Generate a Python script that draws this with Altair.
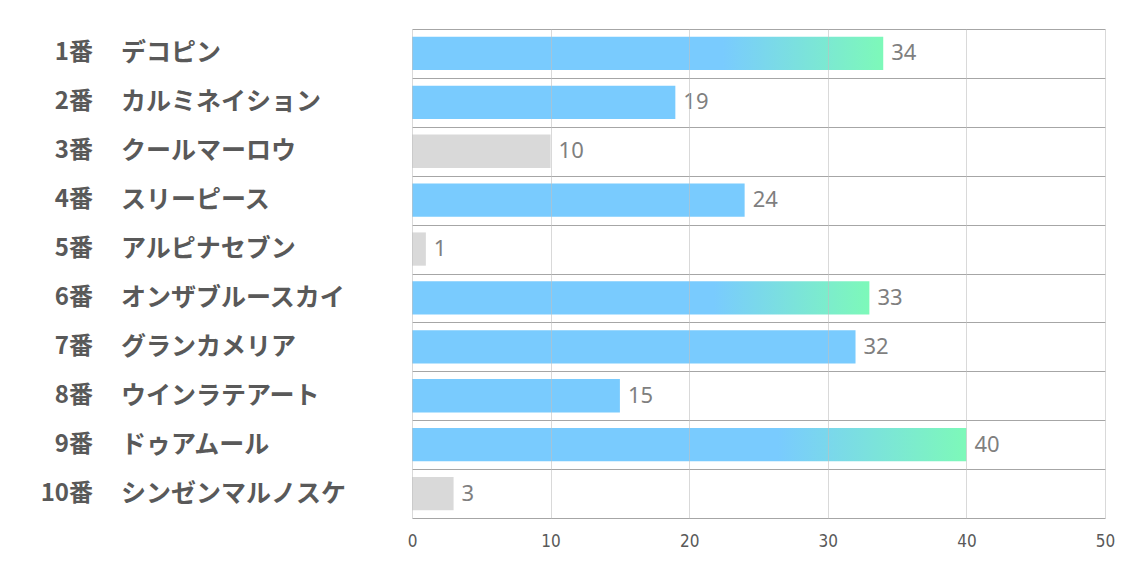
import altair as alt
import pandas as pd

nums = ["1番", "2番", "3番", "4番", "5番", "6番", "7番", "8番", "9番", "10番"]
names = ["デコピン", "カルミネイション", "クールマーロウ", "スリーピース", "アルピナセブン",
         "オンザブルースカイ", "グランカメリア", "ウインラテアート", "ドゥアムール", "シンゼンマルノスケ"]
values = [34, 19, 10, 24, 1, 33, 32, 15, 40, 3]
kinds = ["grad", "blue", "gray", "blue", "gray", "grad", "blue", "blue", "grad", "gray"]
x_ticks = [0, 10, 20, 30, 40, 50]

labels = [f"{n}　{m}" for n, m in zip(nums, names)]
df = pd.DataFrame({"label": labels, "num": nums, "name": names, "value": values, "kind": kinds})

BLUE = "#79CBFE"
GREEN = "#7DF9B9"
GRAY = "#D9D9D9"

y_enc = alt.Y(
    "label:N",
    sort=labels,
    scale=alt.Scale(paddingInner=0, paddingOuter=0),
    axis=alt.Axis(labels=False, ticks=False, domain=False, grid=True, tickBand="extent",
                  gridColor="#A6A6A6", gridWidth=1, title=None),
)
x_enc = alt.X(
    "value:Q",
    scale=alt.Scale(domain=[0, 50], nice=False),
    axis=alt.Axis(values=x_ticks, grid=True, gridColor="#BFBFBF", gridOpacity=0.6, domain=False,
                  ticks=False, labelFontSize=17, labelColor="#595959", labelPadding=15,
                  labelFlush=False,
                  labelFont="Liberation Sans Narrow, DejaVu Sans Condensed, sans-serif",
                  title=None, zindex=1),
)

base = alt.Chart(df)
BAR_H = {"band": 0.68}

blue_bars = base.transform_filter(alt.datum.kind == "blue").mark_bar(
    color=BLUE, height=BAR_H).encode(x=x_enc, y=y_enc)
gray_bars = base.transform_filter(alt.datum.kind == "gray").mark_bar(
    color=GRAY, height=BAR_H).encode(x=x_enc, y=y_enc)
grad_bars = base.transform_filter(alt.datum.kind == "grad").mark_bar(
    height=BAR_H,
    color=alt.LinearGradient(
        gradient="linear",
        stops=[alt.GradientStop(offset=0, color=BLUE),
               alt.GradientStop(offset=0.66, color=BLUE),
               alt.GradientStop(offset=1, color=GREEN)],
        x1=0, x2=1, y1=0, y2=0,
    )
).encode(x=x_enc, y=y_enc)

value_text = base.mark_text(align="left", baseline="middle", dx=8, fontSize=22,
                            font="Noto Sans", color="#7F7F7F").encode(
    x=alt.X("value:Q"), y=alt.Y("label:N", sort=labels), text="value:Q")

num_text = base.mark_text(align="right", baseline="middle", fontSize=24, fontWeight="bold",
                          font="Noto Sans CJK JP", color="#595959").encode(
    x=alt.value(-319), y=alt.Y("label:N", sort=labels), text="num:N")

name_text = base.mark_text(align="left", baseline="middle", fontSize=25, fontWeight="bold",
                           font="Noto Sans CJK JP", color="#595959").encode(
    x=alt.value(-291), y=alt.Y("label:N", sort=labels), text="name:N")

chart = alt.layer(blue_bars, gray_bars, grad_bars, value_text, num_text, name_text).properties(
    width=693,
    height=489,
    autosize=alt.AutoSizeParams(type="none"),
    padding={"left": 404, "top": 21, "right": 20, "bottom": 40},
).configure_view(stroke=None)

chart.save("out.html", embed_options={"renderer": "svg", "actions": False})
